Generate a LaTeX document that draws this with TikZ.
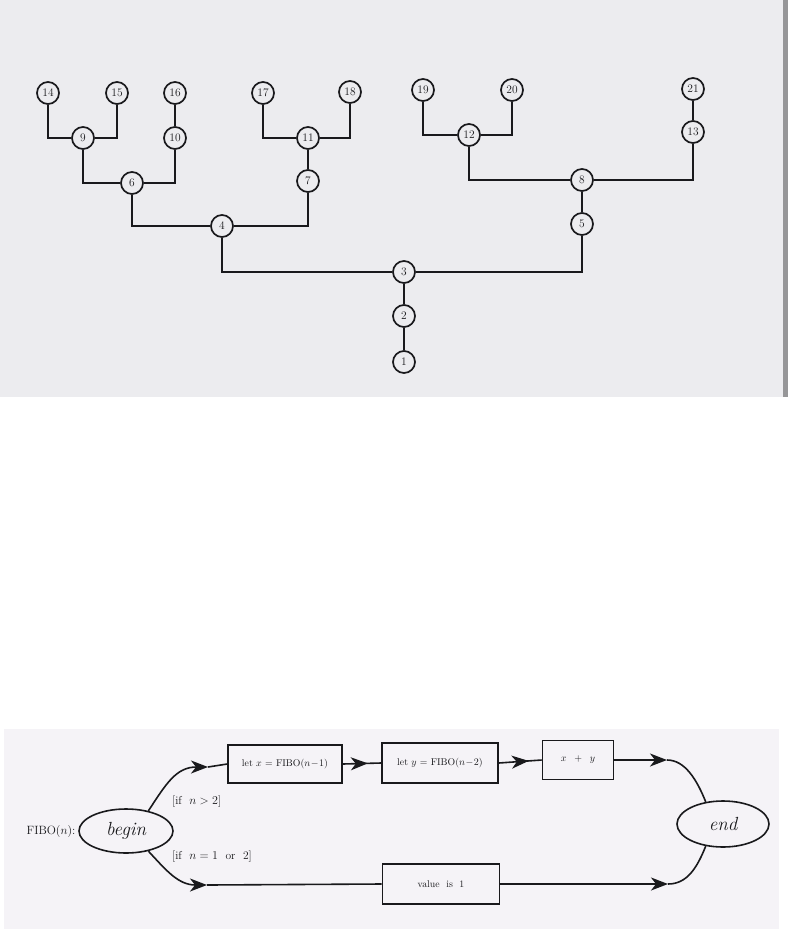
\documentclass[tikz,border=0pt]{standalone}
\usetikzlibrary{arrows.meta,shapes.geometric,decorations.markings}
\definecolor{scanA}{RGB}{236,236,239}
\definecolor{scanB}{RGB}{245,243,247}
\definecolor{scanEdge}{RGB}{150,150,152}
\definecolor{ink}{RGB}{25,25,28}
\begin{document}
\begin{tikzpicture}[x=1pt,y=-1pt,
  tnode/.style={circle,draw=ink,line width=1.7pt,minimum size=22pt,inner sep=0pt,font=\fontsize{11.5}{11.5}\selectfont,text=ink},
  tline/.style={draw=ink,line width=1.7pt},
  fline/.style={draw=ink,line width=1.6pt},
  fbox/.style={rectangle,draw=ink,line width=1.6pt,inner sep=0pt,font=\fontsize{9.8}{10}\selectfont,text=ink},
  fell/.style={ellipse,draw=ink,line width=1.6pt,inner sep=0pt,minimum width=94pt,minimum height=44pt,font=\fontsize{19}{19}\selectfont\itshape,text=ink},
  flabel/.style={font=\fontsize{11.5}{12}\selectfont,text=ink,inner sep=0pt},
  bigtip/.tip={Stealth[length=17pt,width=13pt,inset=5pt]},
  tipat/.style={postaction={decorate,decoration={markings,mark=at position #1 with {\arrow[ink]{bigtip}}}}}
]
\useasboundingbox (0,0) rectangle (788,929);
\fill[scanA] (0,0) rectangle (783,397);
\fill[scanEdge] (783,0) rectangle (788,397);
\fill[scanB] (4,729) rectangle (779,929);

% ---------- tree ----------
\node[tnode] (n14) at (48,93) {14};
\node[tnode] (n15) at (117,93) {15};
\node[tnode] (n16) at (175,93) {16};
\node[tnode] (n17) at (263,93) {17};
\node[tnode] (n18) at (350,92) {18};
\node[tnode] (n19) at (423,90) {19};
\node[tnode] (n20) at (512,90) {20};
\node[tnode] (n21) at (693,89) {21};
\node[tnode] (n9) at (83,138) {9};
\node[tnode] (n10) at (175,138) {10};
\node[tnode] (n11) at (308,138) {11};
\node[tnode] (n12) at (469,135) {12};
\node[tnode] (n13) at (693,132) {13};
\node[tnode] (n6) at (132,183) {6};
\node[tnode] (n7) at (308,181) {7};
\node[tnode] (n8) at (582,180) {8};
\node[tnode] (n4) at (222,226) {4};
\node[tnode] (n5) at (582,224) {5};
\node[tnode] (n3) at (404,272) {3};
\node[tnode] (n2) at (404,316) {2};
\node[tnode] (n1) at (404,362) {1};

\draw[tline] (n14) |- (n9);
\draw[tline] (n15) |- (n9);
\draw[tline] (n16) -- (n10);
\draw[tline] (n9) |- (n6);
\draw[tline] (n10) |- (n6);
\draw[tline] (n17) |- (n11);
\draw[tline] (n18) |- (n11);
\draw[tline] (n11) -- (n7);
\draw[tline] (n6) |- (n4);
\draw[tline] (n7) |- (n4);
\draw[tline] (n19) |- (n12);
\draw[tline] (n20) |- (n12);
\draw[tline] (n21) -- (n13);
\draw[tline] (n12) |- (n8);
\draw[tline] (n13) |- (n8);
\draw[tline] (n8) -- (n5);
\draw[tline] (n4) |- (n3);
\draw[tline] (n5) |- (n3);
\draw[tline] (n3) -- (n2);
\draw[tline] (n2) -- (n1);

% ---------- flowchart ----------
\node[flabel,font=\fontsize{12}{12}\selectfont] (fibo) at (51,831) {FIBO($n$):};
\node[fell] (begin) at (126,831) {begin};
\node[fell,minimum width=92pt,minimum height=46pt] (end) at (723,824) {end};
\node[fbox,minimum width=114pt,minimum height=38pt] (b1) at (285,764) {let $x$ = FIBO($n\!-\!1$)};
\node[fbox,minimum width=116pt,minimum height=40pt] (b2) at (440,763) {let $y$ = FIBO($n\!-\!2$)};
\node[fbox,minimum width=71pt,minimum height=39pt] (b3) at (578,760) {$x\;\;+\;\;y$};
\node[fbox,minimum width=117pt,minimum height=40pt] (b4) at (441,884) {value\ \ is\ \ 1};
\node[flabel,anchor=west] (l1) at (172,802) {[if\ \ $n>2$]};
\node[flabel,anchor=west] (l2) at (172,857) {[if\ \ $n=1$\ \ or\ \ 2]};

\coordinate (t1) at (208,767);
\coordinate (t2) at (207,885);
\coordinate (e1) at (667,760);
\coordinate (e2) at (668,884);

\draw[fline,-bigtip] (begin.42) .. controls (166,784) and (176,767) .. (t1);
\draw[fline] (t1) -- (b1.west);
\draw[fline,-bigtip] (begin.-42) .. controls (166,870) and (178,885) .. (t2);
\draw[fline] (t2) -- (b4.west);
\draw[fline,tipat=25pt] (b1.east) -- (b2.west);
\draw[fline,tipat=30pt] (b2.east) -- (b3.west);
\draw[fline,-bigtip] (b3.east) -- (e1);
\draw[fline] (e1) .. controls (685,760) and (697,780) .. (end.128);
\draw[fline,-bigtip] (b4.east) -- (e2);
\draw[fline] (e2) .. controls (687,884) and (697,868) .. (end.-128);
\end{tikzpicture}
\end{document}
